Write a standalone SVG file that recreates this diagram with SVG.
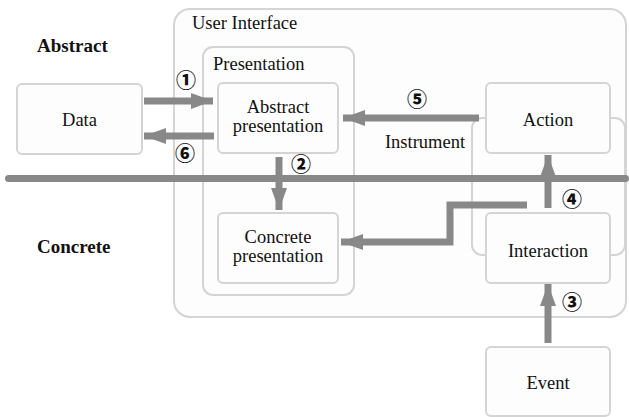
<svg xmlns="http://www.w3.org/2000/svg" width="629" height="417" viewBox="0 0 629 417">
<style>
.box{fill:#fdfdfd;stroke:#d4d4d4;stroke-width:2}
text{font-family:'Liberation Serif','Times New Roman',serif;font-size:18.5px;fill:#111}
.t{text-anchor:middle}
.b{font-weight:bold;font-size:19px}
.n{font-family:'Noto Sans CJK JP','Noto Sans CJK SC',sans-serif;font-size:20px;font-weight:900;text-anchor:middle;dominant-baseline:central}
.c{fill:none;stroke:#888;stroke-width:7}
</style>
<defs>
<marker id="ah" markerUnits="userSpaceOnUse" markerWidth="24" markerHeight="18" refX="22" refY="9" orient="auto">
<path d="M0,1 L22,9 L0,17 Z" fill="#888"/>
</marker>
</defs>
<rect width="629" height="417" fill="#fff"/>
<g id="user-interface">
<rect class="box" x="174" y="9" width="452" height="308" rx="16"/>
<text x="192" y="29">User Interface</text>
</g>
<g id="presentation">
<rect class="box" x="203" y="47" width="151" height="248" rx="10"/>
<text x="213" y="70">Presentation</text>
</g>
<g id="instrument">
<rect class="box" x="472" y="118" width="153" height="137" rx="10"/>
<text class="t" x="425" y="148">Instrument</text>
</g>
<text class="b" x="37" y="52">Abstract</text>
<text class="b" x="37" y="253">Concrete</text>
<rect x="5" y="175" width="624" height="7" rx="3.5" fill="#888"/>
<g id="data">
<rect class="box" x="17" y="84" width="125" height="70" rx="5"/>
<text class="t" x="79.5" y="126">Data</text>
</g>
<g id="abstract-presentation">
<rect class="box" x="218" y="83" width="120" height="70" rx="5"/>
<text class="t" x="278" y="113">Abstract</text>
<text class="t" x="278" y="132">presentation</text>
</g>
<g id="concrete-presentation">
<rect class="box" x="218" y="213" width="120" height="70" rx="5"/>
<text class="t" x="278" y="243">Concrete</text>
<text class="t" x="278" y="262">presentation</text>
</g>
<g id="action">
<rect class="box" x="486" y="83" width="124" height="70" rx="5"/>
<text class="t" x="548" y="126">Action</text>
</g>
<g id="interaction">
<rect class="box" x="486" y="213" width="124" height="70" rx="5"/>
<text class="t" x="548" y="257">Interaction</text>
</g>
<g id="event">
<rect class="box" x="486" y="347" width="124" height="69" rx="5"/>
<text class="t" x="548" y="389">Event</text>
</g>
<g id="connectors">
<line class="c" x1="144" y1="101" x2="213" y2="101" marker-end="url(#ah)"/>
<line class="c" x1="214" y1="136" x2="144" y2="136" marker-end="url(#ah)"/>
<line class="c" x1="279" y1="157" x2="279" y2="210" marker-end="url(#ah)"/>
<line class="c" x1="479" y1="118" x2="343" y2="118" marker-end="url(#ah)"/>
<line class="c" x1="548" y1="208" x2="548" y2="155" marker-end="url(#ah)"/>
<line class="c" x1="548" y1="343" x2="548" y2="284" marker-end="url(#ah)"/>
<polyline class="c" points="527,205 450,205 450,242 341,242" marker-end="url(#ah)"/>
</g>
<g id="labels">
<text class="n" x="186" y="79">①</text>
<text class="n" x="185" y="152">⑥</text>
<text class="n" x="301" y="163">②</text>
<text class="n" x="417" y="98">⑤</text>
<text class="n" x="572" y="198">④</text>
<text class="n" x="572" y="301">③</text>
</g>
</svg>
